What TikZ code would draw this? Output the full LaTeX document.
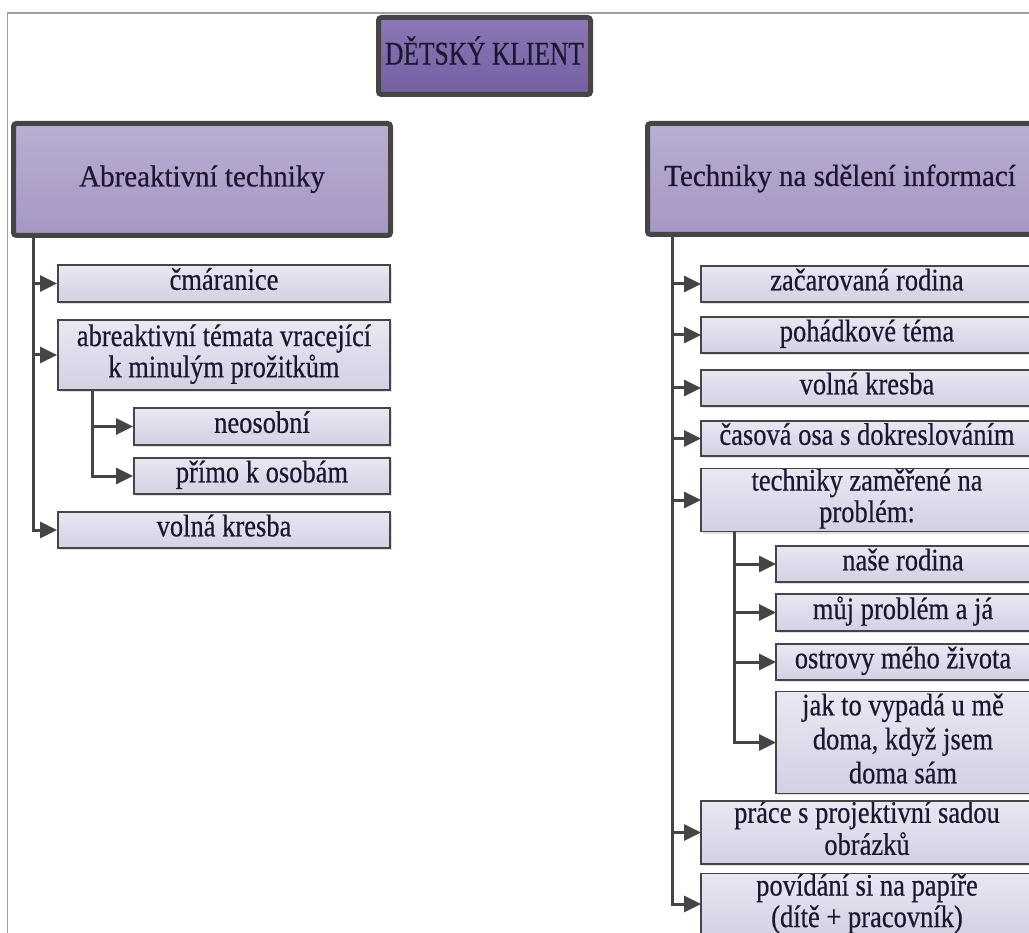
\documentclass[tikz,border=0pt]{standalone}
\usepackage{fontspec}
\usepackage{graphicx}
\setmainfont{Liberation Serif}[FakeBold=0.5]
\usetikzlibrary{arrows.meta,shadows}
\definecolor{rootA}{HTML}{8C78B6}
\definecolor{rootB}{HTML}{735EA2}
\definecolor{headA}{HTML}{BAAED2}
\definecolor{headB}{HTML}{A696C4}
\definecolor{boxA}{HTML}{EAE7F2}
\definecolor{boxB}{HTML}{D5CFE3}
\definecolor{edge}{HTML}{454545}
\definecolor{txt}{HTML}{1C1630}
\definecolor{framec}{HTML}{A0A0A0}
\newcommand{\vtxt}[2][1.18]{\scalebox{1}[#1]{\begin{tabular}{@{}c@{}}#2\end{tabular}}}
\begin{document}
\begin{tikzpicture}[x=1pt,y=-1pt,
  shad/.style={drop shadow={shadow xshift=2pt,shadow yshift=-2pt,opacity=0.25,fill=black!50}},
  rootbox/.style={shad,draw=edge,line width=5pt,rounded corners=3pt,top color=rootA,bottom color=rootB,text=txt,inner sep=0pt,align=center,font=\fontsize{25.5}{29}\selectfont},
  headbox/.style={shad,draw=edge,line width=5pt,rounded corners=3pt,top color=headA,bottom color=headB,text=txt,inner sep=0pt,align=center,font=\fontsize{29}{33}\selectfont},
  itembox/.style={shad,draw=edge,line width=1.8pt,top color=boxA,bottom color=boxB,text=txt,inner sep=0pt,align=center,font=\fontsize{26.5}{26.7}\selectfont},
  openR/.style={draw=none,outer sep=0pt},
  thinedge/.style={draw=edge,line width=1.8pt},
  thickedge/.style={draw=edge,line width=5pt,rounded corners=3pt},
  conn/.style={draw=edge,line width=3pt,-{Triangle[length=17pt,width=16pt]}},
]
\useasboundingbox (0,0) rectangle (1029,933);
\clip (0,0) rectangle (1029,933);
\fill[white] (0,0) rectangle (1029,933);
% frame
\draw[framec,line width=1.5pt] (7.5,933) -- (7.5,13) -- (1029,13);

% root
\node[rootbox,minimum width=212pt,minimum height=77pt] (root) at (484.5,56)
  {\vtxt[1.3]{DĚTSKÝ KLIENT}};

% headers
\node[headbox,minimum width=377pt,minimum height=112pt] (A) at (202,179.5) {\vtxt[1.05]{Abreaktivní techniky}};
\node[headbox,openR,minimum width=397pt,minimum height=111pt] (T) at (846,179) {\hspace*{-12pt}\vtxt[1.05]{Techniky na sdělení informací}};

% left items
\node[itembox,minimum width=332pt,minimum height=37pt] (cm) at (224,283.5) {\vtxt{čmáranice}};
\node[itembox,minimum width=332pt,minimum height=70pt,font=\fontsize{26.5}{24}\selectfont] (ab) at (224,355) {\vtxt{abreaktivní témata vracející\\k minulým prožitkům}};
\node[itembox,minimum width=256pt,minimum height=37pt] (neo) at (262,426.5) {\vtxt{neosobní}};
\node[itembox,minimum width=256pt,minimum height=36pt] (pri) at (262,476) {\vtxt{přímo k osobám}};
\node[itembox,minimum width=332pt,minimum height=36pt] (vkL) at (224,530) {\vtxt{volná kresba}};

% right items (their right sides lie outside the picture)
\node[itembox,openR,minimum width=339pt,minimum height=36pt] (zac) at (870.5,284) {\hspace*{-7pt}\vtxt{začarovaná rodina}};
\node[itembox,openR,minimum width=339pt,minimum height=36pt] (poh) at (870.5,335) {\hspace*{-7pt}\vtxt{pohádkové téma}};
\node[itembox,openR,minimum width=339pt,minimum height=36pt] (vkR) at (870.5,388) {\hspace*{-7pt}\vtxt{volná kresba}};
\node[itembox,openR,minimum width=339pt,minimum height=35pt] (cas) at (870.5,438.5) {\hspace*{-7pt}\vtxt{časová osa s dokreslováním}};
\node[itembox,openR,minimum width=339pt,minimum height=58pt] (tech) at (870.5,500) {\hspace*{-7pt}\vtxt{techniky zaměřené na\\problém:}};
\node[itembox,openR,minimum width=264pt,minimum height=36pt] (nase) at (908,564) {\hspace*{-10pt}\vtxt{naše rodina}};
\node[itembox,openR,minimum width=264pt,minimum height=37pt] (muj) at (908,612.5) {\hspace*{-10pt}\vtxt{můj problém a já}};
\node[itembox,openR,minimum width=264pt,minimum height=36pt] (ost) at (908,662) {\hspace*{-10pt}\vtxt{ostrovy mého života}};
\node[itembox,openR,minimum width=264pt,minimum height=99pt,font=\fontsize{26.5}{28.8}\selectfont] (jak) at (908,742.5) {\hspace*{-10pt}\vtxt{jak to vypadá u mě\\doma, když jsem\\doma sám}};
\node[itembox,openR,minimum width=339pt,minimum height=57pt] (prace) at (870.5,832.5) {\hspace*{-7pt}\vtxt{práce s projektivní sadou\\obrázků}};
\node[itembox,openR,minimum width=339pt,minimum height=62pt] (pov) at (870.5,905) {\hspace*{-7pt}\vtxt{povídání si na papíře\\(dítě + pracovník)}};

% open borders of the cut boxes
\draw[thickedge] (T.north east) -- (T.north west) -- (T.south west) -- (T.south east);
\foreach \n in {zac,poh,vkR,cas,tech,nase,muj,ost,jak,prace,pov}
  \draw[thinedge] (\n.north east) -- (\n.north west) -- (\n.south west) -- (\n.south east);

% trunk coordinates
\coordinate (tl) at (33,0);
\coordinate (sl) at (92,0);
\coordinate (tr) at (672,0);
\coordinate (sr) at (734,0);

% left connectors
\foreach \n in {cm,ab,vkL} \draw[conn] (A.south -| tl) |- (\n.west);
\foreach \n in {neo,pri} \draw[conn] (ab.south -| sl) |- (\n.west);
% right connectors
\foreach \n in {zac,poh,vkR,cas,tech,prace} \draw[conn] (T.south -| tr) |- (\n.west);
\coordinate (povin) at (pov.west |- 0,904);
\draw[conn] (T.south -| tr) |- (povin);
\foreach \n in {nase,muj,ost,jak} \draw[conn] (tech.south -| sr) |- (\n.west);
\end{tikzpicture}
\end{document}
